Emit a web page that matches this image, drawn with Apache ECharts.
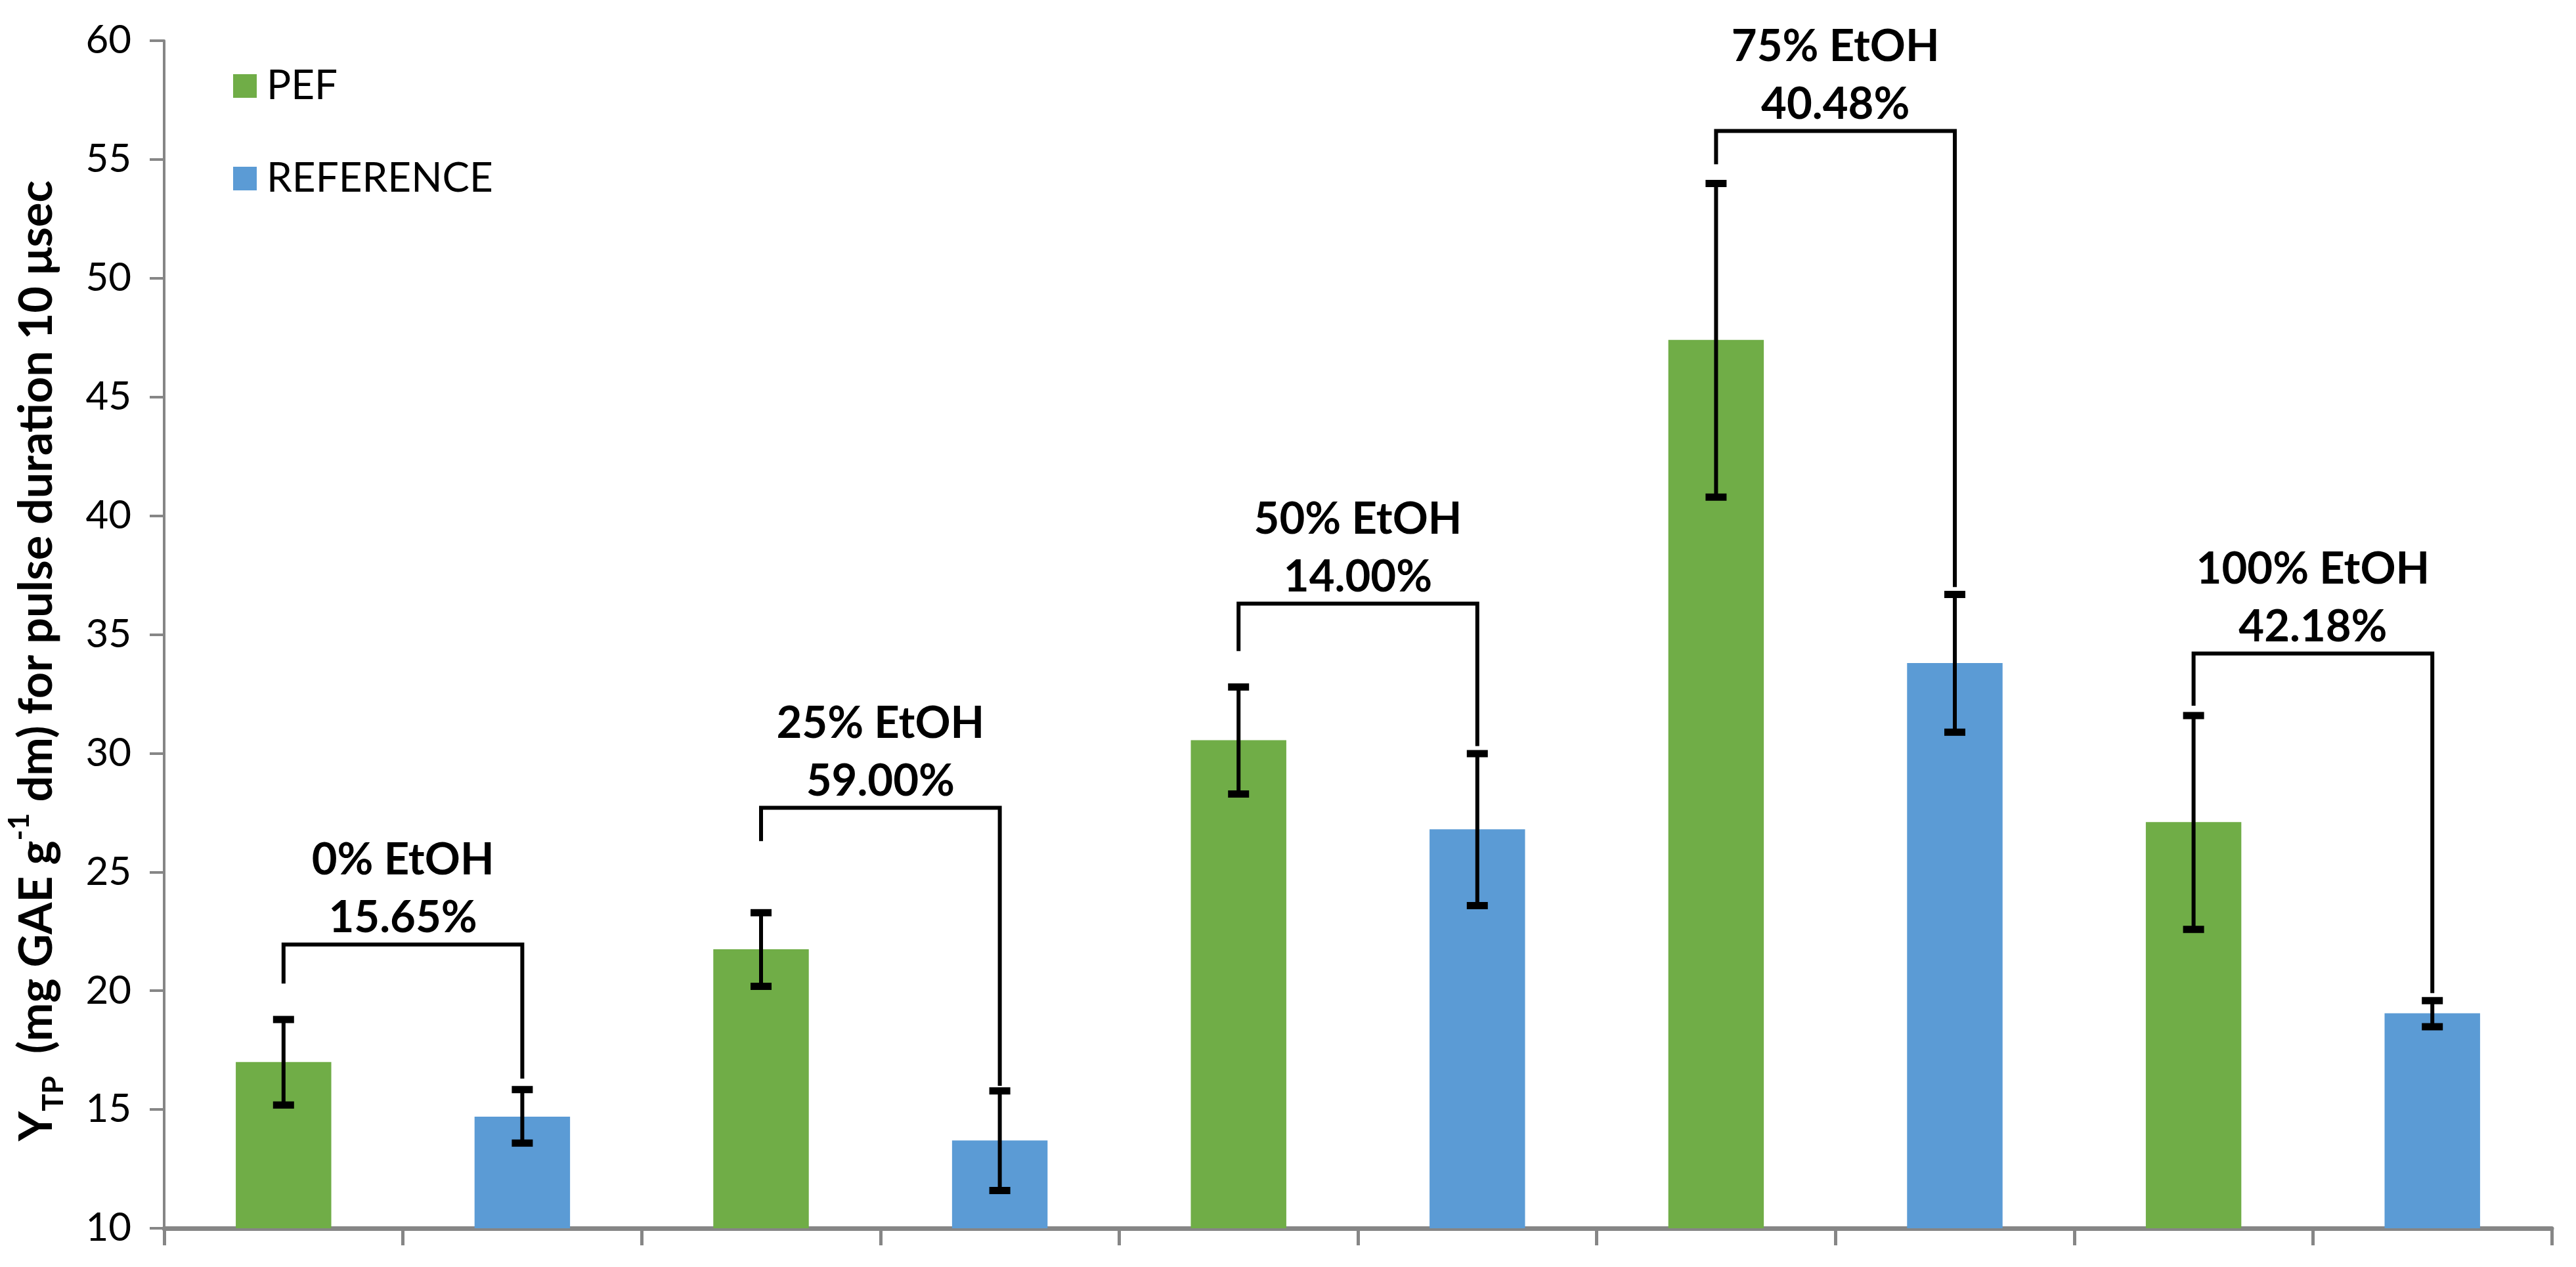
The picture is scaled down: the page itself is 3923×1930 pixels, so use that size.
<!DOCTYPE html>
<html>
<head>
<meta charset="utf-8">
<script src="https://cdn.jsdelivr.net/npm/echarts@6/dist/echarts.min.js"></script>
<style>
html,body{margin:0;padding:0;background:#fff;}
#chart{width:3923px;height:1930px;}
</style>
</head>
<body>
<div id="chart"></div>
<script>
// ---- data ----
const groups = ['0% EtOH', '25% EtOH', '50% EtOH', '75% EtOH', '100% EtOH'];
const increase = ['15.65%', '59.00%', '14.00%', '40.48%', '42.18%'];
const pef = [17.0, 21.75, 30.55, 47.4, 27.1];
const pefLow = [15.2, 20.2, 28.3, 40.8, 22.6];
const pefHigh = [18.8, 23.3, 32.8, 54.0, 31.6];
const ref = [14.7, 13.7, 26.8, 33.8, 19.05];
const refLow = [13.6, 11.6, 23.6, 30.9, 18.5];
const refHigh = [15.85, 15.8, 30.0, 36.7, 19.6];
const bracketTop = [21.95, 27.7, 36.3, 56.2, 34.2];
const bracketLeftEnd = [20.3, 26.3, 34.3, 54.8, 32.0];
const bracketRightEnd = [16.3, 16.0, 30.3, 37.0, 19.9];
const yTicks = [10, 15, 20, 25, 30, 35, 40, 45, 50, 55, 60];

// ---- build library inputs ----
const slots = [];
const pefSlots = [];
const refSlots = [];
const errData = [];
const bracketData = [];
for (let i = 0; i < groups.length; i++) {
  slots.push('PEF ' + groups[i], 'REFERENCE ' + groups[i]);
  pefSlots.push(pef[i], '-');
  refSlots.push('-', ref[i]);
  errData.push([2 * i, pefLow[i], pefHigh[i]]);
  errData.push([2 * i + 1, refLow[i], refHigh[i]]);
  bracketData.push([2 * i, bracketLeftEnd[i], bracketTop[i], bracketRightEnd[i], i]);
}

const FONT = 'Lato, "Open Sans", sans-serif';
const chart = echarts.init(document.getElementById('chart'));

const option = {
  backgroundColor: '#ffffff',
  animation: false,
  grid: { left: 243, right: 37, top: 62, bottom: 59, containLabel: false },
  legend: {
    data: ['PEF', 'REFERENCE'],
    orient: 'vertical',
    left: 350,
    top: 95,
    itemWidth: 36,
    itemHeight: 36,
    itemGap: 79,
    icon: 'rect',
    textStyle: { fontFamily: FONT, fontSize: 62, color: '#000', padding: [0, 0, 0, 10] }
  },
  xAxis: {
    type: 'category',
    data: slots,
    boundaryGap: true,
    axisLine: { show: true, lineStyle: { color: '#868686', width: 7 } },
    axisTick: { show: true, length: 26, lineStyle: { color: '#868686', width: 5 } },
    axisLabel: { show: false },
    splitLine: { show: false }
  },
  yAxis: {
    type: 'value',
    min: yTicks[0],
    max: yTicks[yTicks.length - 1],
    interval: 5,
    axisLine: { show: true, lineStyle: { color: '#868686', width: 4 } },
    axisTick: { show: true, length: 22, lineStyle: { color: '#868686', width: 4 } },
    axisLabel: { fontFamily: FONT, fontSize: 60, color: '#000', margin: 50 },
    splitLine: { show: false },
    name: '{n|Y}{sub|TP}{n|  (mg GAE g}{sup|-1}{n| dm) for pulse duration 10 μsec}',
    nameLocation: 'middle',
    nameGap: 146,
    nameTextStyle: {
      padding: [0, 80, 0, 0],
      rich: {
        n: { fontFamily: FONT, fontWeight: 'bold', fontSize: 70, color: '#000', lineHeight: 96 },
        sub: { fontFamily: FONT, fontWeight: 'bold', fontSize: 44, color: '#000', lineHeight: 48, verticalAlign: 'bottom' },
        sup: { fontFamily: FONT, fontWeight: 'bold', fontSize: 44, color: '#000', lineHeight: 48, verticalAlign: 'top' }
      }
    }
  },
  series: [
    {
      name: 'PEF', type: 'bar', data: pefSlots, barWidth: '40%', barGap: '-100%',
      itemStyle: { color: '#70AD47' }
    },
    {
      name: 'REFERENCE', type: 'bar', data: refSlots, barWidth: '40%', barGap: '-100%',
      itemStyle: { color: '#5B9BD5' }
    },
    {
      type: 'custom',
      data: errData,
      z: 10,
      encode: { x: 0, y: [1, 2] },
      renderItem: function (params, api) {
        const x = api.value(0);
        const lo = api.coord([x, api.value(1)]);
        const hi = api.coord([x, api.value(2)]);
        const cw = 16;
        const st = { stroke: '#000', lineWidth: 6 };
        return {
          type: 'group',
          children: [
            { type: 'line', shape: { x1: lo[0], y1: lo[1], x2: hi[0], y2: hi[1] }, style: st },
            { type: 'rect', shape: { x: hi[0] - cw, y: hi[1] - 5, width: cw * 2, height: 11 }, style: { fill: '#000' } },
            { type: 'rect', shape: { x: lo[0] - cw, y: lo[1] - 5, width: cw * 2, height: 11 }, style: { fill: '#000' } }
          ]
        };
      }
    },
    {
      type: 'custom',
      data: bracketData,
      z: 11,
      encode: { x: 0, y: [1, 2, 3] },
      renderItem: function (params, api) {
        const x = api.value(0);
        const gi = api.value(4);
        const a = api.coord([x, api.value(1)]);
        const t1 = api.coord([x, api.value(2)]);
        const t2 = api.coord([x + 1, api.value(2)]);
        const b = api.coord([x + 1, api.value(3)]);
        const mid = (t1[0] + t2[0]) / 2;
        return {
          type: 'group',
          children: [
            { type: 'polyline', shape: { points: [a, t1, t2, b] }, style: { stroke: '#000', lineWidth: 6, fill: null, lineJoin: 'miter' } },
            { type: 'text', x: mid, y: t1[1] - 40, style: { text: increase[gi], fontFamily: FONT, fontWeight: 'bold', fontSize: 67, fill: '#000', align: 'center', verticalAlign: 'middle' } },
            { type: 'text', x: mid, y: t1[1] - 128, style: { text: groups[gi], fontFamily: FONT, fontWeight: 'bold', fontSize: 67, fill: '#000', align: 'center', verticalAlign: 'middle' } }
          ]
        };
      }
    }
  ]
};
chart.setOption(option);
</script>
</body>
</html>
